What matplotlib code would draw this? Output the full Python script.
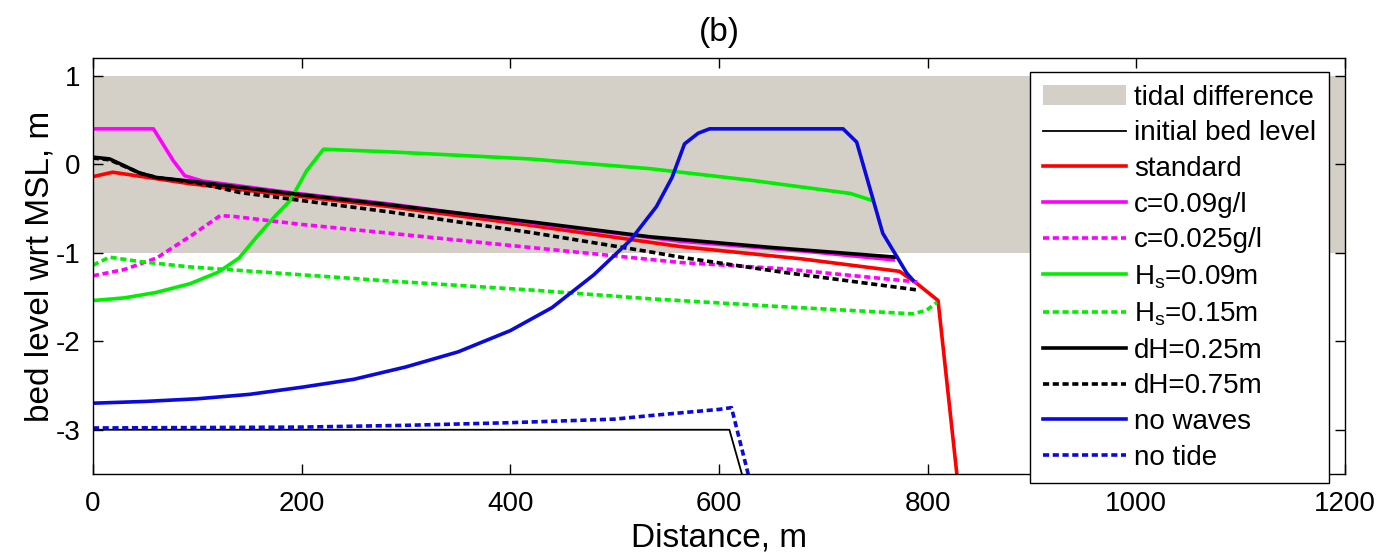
import numpy as np
import matplotlib
matplotlib.use('Agg')
import matplotlib.pyplot as plt
from matplotlib.patches import Patch

plt.rcParams['font.family'] = ['Liberation Sans', 'DejaVu Sans']
plt.rcParams['mathtext.fontset'] = 'custom'
plt.rcParams['mathtext.rm'] = 'Liberation Sans'
plt.rcParams['mathtext.it'] = 'Liberation Sans'
plt.rcParams['axes.unicode_minus'] = False

# perfis (distancia em m, cota em m)
x_inicial = [0, 610, 622, 650]
z_inicial = [-3.0, -3.0, -3.5, -4.5]

x_padrao = [0, 19, 93, 189, 285, 419, 563, 680, 773, 790, 810, 828, 840]
z_padrao = [-0.14, -0.09, -0.22, -0.35, -0.48, -0.69, -0.93, -1.07, -1.21, -1.35, -1.54, -3.5, -4.5]

x_c009 = [0, 58, 77, 88, 105, 189, 285, 419, 563, 680, 767]
z_c009 = [0.40, 0.40, 0.04, -0.13, -0.19, -0.32, -0.45, -0.66, -0.87, -0.98, -1.08]

x_c0025 = [0, 30, 61, 95, 122, 135, 200, 285, 419, 563, 661, 790]
z_c0025 = [-1.26, -1.19, -1.06, -0.80, -0.58, -0.59, -0.68, -0.78, -0.94, -1.11, -1.18, -1.33]

x_hs009 = [0, 30, 60, 93, 120, 140, 157, 175, 189, 205, 221, 285, 419, 534, 630, 726, 747]
z_hs009 = [-1.54, -1.51, -1.45, -1.35, -1.22, -1.06, -0.82, -0.58, -0.41, -0.07, 0.17, 0.14, 0.06, -0.05, -0.18, -0.33, -0.41]

x_hs015 = [0, 16, 45, 93, 141, 285, 419, 534, 661, 786, 799, 809]
z_hs015 = [-1.14, -1.05, -1.10, -1.16, -1.20, -1.32, -1.42, -1.52, -1.61, -1.69, -1.65, -1.56]

x_dh025 = [0, 16, 45, 61, 100, 189, 285, 419, 534, 650, 770]
z_dh025 = [0.08, 0.06, -0.10, -0.15, -0.20, -0.33, -0.46, -0.65, -0.82, -0.94, -1.05]

x_dh075 = [0, 16, 45, 61, 100, 141, 285, 419, 534, 563, 661, 790]
z_dh075 = [0.07, 0.05, -0.10, -0.15, -0.21, -0.32, -0.54, -0.77, -0.99, -1.05, -1.22, -1.42]

x_sem_ondas = [0, 50, 100, 150, 200, 250, 300, 350, 400, 440, 480, 515, 540, 555, 567,
               580, 591, 719, 732, 757, 780, 786]
z_sem_ondas = [-2.70, -2.68, -2.65, -2.60, -2.52, -2.43, -2.29, -2.12, -1.88, -1.62, -1.25,
               -0.86, -0.48, -0.15, 0.23, 0.35, 0.40, 0.40, 0.25, -0.78, -1.23, -1.31]

x_sem_mare = [0, 200, 300, 400, 500, 534, 600, 612, 628, 640]
z_sem_mare = [-2.98, -2.97, -2.95, -2.92, -2.88, -2.84, -2.77, -2.75, -3.5, -4.0]

mare_min, mare_max = -1.0, 1.0

cinza = '#d4d0c8'
azul = '#0a0adc'
tracejado = (0, (1.7, 1.0))

fig = plt.figure(figsize=(13.83, 5.57), dpi=100)
ax = fig.add_axes([0.0672, 0.1490, 0.9053, 0.7468])

ax.fill_between([0, 1200], [mare_min, mare_min], [mare_max, mare_max], color=cinza, lw=0, zorder=0)

lw = 2.6
ax.plot(x_inicial, z_inicial, color='k', lw=1.3)
ax.plot(x_padrao, z_padrao, color='#ff0000', lw=lw)
ax.plot(x_c009, z_c009, color='#ff00ff', lw=lw)
ax.plot(x_c0025, z_c0025, color='#ff00ff', lw=lw, ls=tracejado)
ax.plot(x_hs009, z_hs009, color='#00ee00', lw=lw)
ax.plot(x_hs015, z_hs015, color='#00ee00', lw=lw, ls=tracejado)
ax.plot(x_dh025, z_dh025, color='k', lw=lw)
ax.plot(x_dh075, z_dh075, color='k', lw=lw, ls=tracejado)
ax.plot(x_sem_ondas, z_sem_ondas, color=azul, lw=lw)
ax.plot(x_sem_mare, z_sem_mare, color=azul, lw=lw, ls=tracejado)

ax.set_xlim(0, 1200)
ax.set_ylim(-3.5, 1.2)
ax.set_xticks([0, 200, 400, 600, 800, 1000, 1200])
ax.set_yticks([-3, -2, -1, 0, 1])
ax.tick_params(direction='in', length=7, width=1, top=True, right=True, labelsize=20)
ax.tick_params(axis='x', pad=12)
ax.tick_params(axis='y', pad=9)
for s in ax.spines.values():
    s.set_linewidth(1)

ax.set_title('(b)', fontsize=24, pad=12)
ax.set_xlabel('Distance, m', fontsize=24, labelpad=4)
ax.set_ylabel('bed level wrt MSL, m', fontsize=24, labelpad=0)

rotulos = ['tidal difference', 'initial bed level', 'standard', 'c=0.09g/l', 'c=0.025g/l',
           'H$_\\mathrm{s}$=0.09m', 'H$_\\mathrm{s}$=0.15m', 'dH=0.25m', 'dH=0.75m',
           'no waves', 'no tide']
handles = [Patch(facecolor=cinza, edgecolor='none')] + ax.get_lines()
leg = ax.legend(handles, rotulos, loc='upper left', bbox_to_anchor=(0.7448, 0.8707),
                bbox_transform=fig.transFigure, borderaxespad=0, fontsize=20,
                handlelength=3.0, handletextpad=0.3, labelspacing=0.35, borderpad=0.45,
                fancybox=False, framealpha=1, edgecolor='k')
leg.get_frame().set_linewidth(1)

fig.savefig('out.png', dpi=100)
